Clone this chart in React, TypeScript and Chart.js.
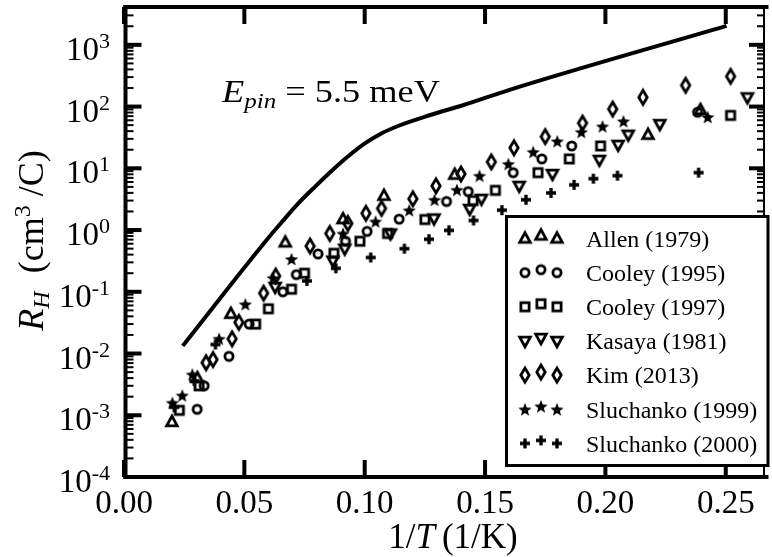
import React, { useEffect, useRef } from "react";
import { Chart, registerables } from "chart.js";

Chart.register(...registerables);

// ---------------- data ----------------
const seriesLabels = [
  "Allen (1979)",
  "Cooley (1995)",
  "Cooley (1997)",
  "Kasaya (1981)",
  "Kim (2013)",
  "Sluchanko (1999)",
  "Sluchanko (2000)",
];

const allenX = [0.0199, 0.0305, 0.0444, 0.067, 0.091, 0.108, 0.1374, 0.2177, 0.2395];
const allenY = [7.8e-4, 4.0e-3, 0.044, 0.63, 1.5, 3.6, 7.9, 35, 88];

const cooley95X = [0.0304, 0.0333, 0.0436, 0.052, 0.066, 0.0716, 0.0806, 0.092, 0.101, 0.1143, 0.134, 0.143, 0.1617, 0.1736, 0.186, 0.2383];
const cooley95Y = [1.25e-3, 3.0e-3, 0.009, 0.03, 0.1, 0.19, 0.41, 0.66, 0.95, 1.5, 2.9, 4.2, 8.5, 14.2, 23, 81];

const cooley97X = [0.023, 0.0312, 0.0547, 0.06, 0.0696, 0.075, 0.0872, 0.098, 0.1095, 0.125, 0.145, 0.1543, 0.172, 0.185, 0.198, 0.252];
const cooley97Y = [1.2e-3, 3.0e-3, 0.03, 0.053, 0.11, 0.2, 0.42, 0.66, 0.88, 1.48, 3.0, 4.4, 8.5, 14.2, 23, 72];

const kasayaX = [0.0628, 0.0868, 0.0917, 0.1107, 0.1288, 0.1436, 0.1485, 0.1642, 0.178, 0.1975, 0.2053, 0.2095, 0.2226, 0.259];
const kasayaY = [0.12, 0.32, 0.5, 0.88, 1.54, 2.2, 3.2, 5.2, 8.1, 13.7, 24, 35, 52, 141];

const kimX = [0.0341, 0.037, 0.0449, 0.0477, 0.058, 0.063, 0.0773, 0.0855, 0.093, 0.1005, 0.107, 0.12, 0.1296, 0.14, 0.1526, 0.162, 0.175, 0.1905, 0.203, 0.2156, 0.2333, 0.252];
const kimY = [7.1e-3, 8.0e-3, 0.0173, 0.032, 0.095, 0.18, 0.55, 0.88, 1.28, 1.87, 2.24, 3.2, 5.2, 8.1, 12.7, 21.5, 32.6, 54, 91, 141, 221, 309];

const sluch99X = [0.0201, 0.0242, 0.0284, 0.0395, 0.0504, 0.062, 0.0696, 0.091, 0.1045, 0.1185, 0.129, 0.1383, 0.1477, 0.1597, 0.17, 0.18, 0.19, 0.1988, 0.2075, 0.2425];
const sluch99Y = [1.6e-3, 2.1e-3, 4.6e-3, 0.0174, 0.063, 0.167, 0.34, 0.88, 1.38, 2.1, 3.1, 4.5, 7.6, 11.8, 18.5, 27.5, 39, 48, 58, 68];

const sluch00X = [0.0209, 0.0292, 0.038, 0.076, 0.088, 0.1025, 0.1165, 0.1267, 0.135, 0.1452, 0.157, 0.167, 0.1774, 0.187, 0.195, 0.205, 0.2387];
const sluch00Y = [1.35e-3, 3.6e-3, 0.014, 0.15, 0.24, 0.36, 0.5, 0.71, 0.99, 1.43, 2.1, 3.1, 4.0, 5.4, 6.8, 7.6, 8.5];

const modelX = [0.0244, 0.0601, 0.0663, 0.0724, 0.0793, 0.0861, 0.093, 0.0999, 0.1067, 0.1136, 0.1273, 0.1411, 0.1602, 0.2503];
const modelY = [0.0133, 0.757, 1.45, 2.70, 5.01, 8.96, 15.5, 25.1, 36.4, 48.0, 73.0, 106, 187, 2029];

const xTickValues = [0, 0.05, 0.1, 0.15, 0.2, 0.25];
const xTickLabels = ["0.00", "0.05", "0.10", "0.15", "0.20", "0.25"];
const yTickExponents = [-4, -3, -2, -1, 0, 1, 2, 3];
const yTickExpLabels = ["-4", "-3", "-2", "-1", "0", "1", "2", "3"];

const X_MIN = 0;
const X_MAX = 0.2663;
const Y_MIN = 1e-4;
const Y_MAX = 4100;

const SERIF = '"Liberation Serif", "Times New Roman", serif';

function pts(xs: number[], ys: number[]) {
  return xs.map((x, i) => ({ x, y: ys[i] }));
}

function makeMarker(kind: string): HTMLCanvasElement {
  const S = 22;
  const c = document.createElement("canvas");
  c.width = S;
  c.height = S;
  const g = c.getContext("2d")!;
  const m = S / 2;
  g.strokeStyle = "#000";
  g.fillStyle = "#000";
  g.lineWidth = 2.8;
  g.lineJoin = "miter";
  g.beginPath();
  switch (kind) {
    case "triUp":
      g.moveTo(m, m - 5.8);
      g.lineTo(m + 5.3, m + 3.8);
      g.lineTo(m - 5.3, m + 3.8);
      g.closePath();
      g.stroke();
      break;
    case "triDown":
      g.moveTo(m, m + 5.8);
      g.lineTo(m + 5.3, m - 3.8);
      g.lineTo(m - 5.3, m - 3.8);
      g.closePath();
      g.stroke();
      break;
    case "circle":
      g.arc(m, m, 4.1, 0, Math.PI * 2);
      g.stroke();
      break;
    case "square":
      g.rect(m - 4.1, m - 4.1, 8.2, 8.2);
      g.stroke();
      break;
    case "diamond":
      g.moveTo(m, m - 7);
      g.lineTo(m + 4.2, m);
      g.lineTo(m, m + 7);
      g.lineTo(m - 4.2, m);
      g.closePath();
      g.stroke();
      break;
    case "star":
      for (let i = 0; i < 10; i++) {
        const r = i % 2 === 0 ? 7 : 3;
        const a = -Math.PI / 2 + (i * Math.PI) / 5;
        const px = m + r * Math.cos(a);
        const py = m + 0.8 + r * Math.sin(a);
        if (i === 0) g.moveTo(px, py);
        else g.lineTo(px, py);
      }
      g.closePath();
      g.fill();
      break;
    case "plus":
      g.lineWidth = 3.3;
      g.moveTo(m - 5, m);
      g.lineTo(m + 5, m);
      g.moveTo(m, m - 5);
      g.lineTo(m, m + 5);
      g.stroke();
      break;
  }
  return c;
}

type Run = { text: string; font: string; dy: number };

function runsWidth(ctx: CanvasRenderingContext2D, runs: Run[]) {
  let w = 0;
  for (const r of runs) {
    ctx.font = r.font;
    w += ctx.measureText(r.text).width;
  }
  return w;
}

function drawRuns(ctx: CanvasRenderingContext2D, runs: Run[], x: number, y: number) {
  let cx = x;
  ctx.textAlign = "left";
  ctx.textBaseline = "alphabetic";
  for (const r of runs) {
    ctx.font = r.font;
    ctx.fillText(r.text, cx, y + r.dy);
    cx += ctx.measureText(r.text).width;
  }
}

export default function App() {
  const canvasRef = useRef<HTMLCanvasElement | null>(null);

  useEffect(() => {
    const canvas = canvasRef.current;
    if (!canvas) return;

    const kinds = ["triUp", "circle", "square", "triDown", "diamond", "star", "plus"];
    const markers = kinds.map((k) => makeMarker(k));
    const seriesData = [
      pts(allenX, allenY),
      pts(cooley95X, cooley95Y),
      pts(cooley97X, cooley97Y),
      pts(kasayaX, kasayaY),
      pts(kimX, kimY),
      pts(sluch99X, sluch99Y),
      pts(sluch00X, sluch00Y),
    ];

    const decor = {
      id: "decor",
      afterDraw(chart: any) {
        const ctx: CanvasRenderingContext2D = chart.ctx;
        const a = chart.chartArea;
        const xs = chart.scales.x;
        const ys = chart.scales.y;
        ctx.save();
        ctx.fillStyle = "#000";

        const L = a.left;
        const R = a.right;
        const T = a.top;
        const B = a.bottom;

        // y ticks (major + minor), left and right, pointing inward
        for (let e = -4; e <= 3; e++) {
          for (let k = 1; k <= 9; k++) {
            const v = k * Math.pow(10, e);
            if (v < Y_MIN || v > Y_MAX) continue;
            const py = ys.getPixelForValue(v);
            if (k === 1) {
              ctx.fillRect(L, py - 2, 17.5, 4);
              ctx.fillRect(R - 16, py - 2, 16, 4);
            } else {
              ctx.fillRect(L, py - 1, 9.5, 2);
              ctx.fillRect(R - 8, py - 1, 8, 2);
            }
          }
        }
        // x ticks top & bottom
        for (const v of xTickValues) {
          const px = xs.getPixelForValue(v);
          ctx.fillRect(px - 2, B - 17, 4, 17);
          ctx.fillRect(px - 2, T, 4, 17);
        }

        // frame
        ctx.fillRect(L - 0.5, T - 2, R - L + 4, 4);
        ctx.fillRect(L - 0.5, B - 2, R - L + 4, 4);
        ctx.fillRect(L - 0.5, T - 2, 4, B - T + 4);
        ctx.fillRect(R - 2, T - 2, 2, B - T + 4);

        // y tick labels 10^n
        for (let i = 0; i < yTickExponents.length; i++) {
          const py = ys.getPixelForValue(Math.pow(10, yTickExponents[i]));
          ctx.font = `22px ${SERIF}`;
          const supW = ctx.measureText(yTickExpLabels[i]).width;
          ctx.textBaseline = "alphabetic";
          ctx.textAlign = "left";
          ctx.fillText(yTickExpLabels[i], 110 - supW, py + 3);
          ctx.font = `33px ${SERIF}`;
          ctx.textAlign = "right";
          ctx.fillText("10", 110 - supW, py + 15);
        }

        // x tick labels
        ctx.font = `33px ${SERIF}`;
        ctx.textAlign = "center";
        ctx.textBaseline = "alphabetic";
        for (let i = 0; i < xTickValues.length; i++) {
          const px = xs.getPixelForValue(xTickValues[i]);
          ctx.fillText(xTickLabels[i], px, 513);
        }

        // x title: 1/T (1/K)
        const xt: Run[] = [
          { text: "1/", font: `35px ${SERIF}`, dy: 0 },
          { text: "T", font: `italic 35px ${SERIF}`, dy: 0 },
          { text: "\u2009(1/K)", font: `35px ${SERIF}`, dy: 0 },
        ];
        const xtw = runsWidth(ctx, xt);
        drawRuns(ctx, xt, 453 - xtw / 2, 548);

        // y title: R_H (cm^3 /C)
        const yt: Run[] = [
          { text: "R", font: `italic 36px ${SERIF}`, dy: 0 },
          { text: "H", font: `italic 24px ${SERIF}`, dy: 6 },
          { text: "  (cm", font: `36px ${SERIF}`, dy: 0 },
          { text: "3", font: `24px ${SERIF}`, dy: -13 },
          { text: " /C)", font: `36px ${SERIF}`, dy: 0 },
        ];
        const ytw = runsWidth(ctx, yt);
        ctx.save();
        ctx.translate(43, 240.5);
        ctx.rotate(-Math.PI / 2);
        drawRuns(ctx, yt, -ytw / 2, 0);
        ctx.restore();

        // annotation E_pin = 5.5 meV
        const an: Run[] = [
          { text: "E", font: `italic 32px ${SERIF}`, dy: 0 },
          { text: "pin", font: `italic 22px ${SERIF}`, dy: 6 },
          { text: " = 5.5 meV", font: `32px ${SERIF}`, dy: 0 },
        ];
        const anw = runsWidth(ctx, an);
        ctx.save();
        ctx.translate(222, 102);
        ctx.scale(218 / anw, 1);
        drawRuns(ctx, an, 0, 0);
        ctx.restore();

        // legend
        const lx = 506.5;
        const ly = 216.5;
        const lw = 261.5;
        const lh = 249;
        ctx.fillStyle = "#fff";
        ctx.fillRect(lx, ly, lw, lh);
        ctx.strokeStyle = "#000";
        ctx.lineWidth = 3;
        ctx.strokeRect(lx, ly, lw, lh);
        ctx.fillStyle = "#000";
        ctx.font = `24px ${SERIF}`;
        ctx.textAlign = "left";
        ctx.textBaseline = "alphabetic";
        for (let i = 0; i < seriesLabels.length; i++) {
          const cy = 238.5 + i * 34.15;
          const mk = markers[i];
          const offs = [
            [525, 0],
            [541, -3],
            [557, 0],
          ];
          for (const [mx, dy] of offs) {
            ctx.drawImage(mk, mx - mk.width / 2, cy + dy - mk.height / 2);
          }
          ctx.fillText(seriesLabels[i], 586, cy + 8.3);
        }
        ctx.restore();
      },
    };

    const datasets: any[] = seriesData.map((d, i) => ({
      label: seriesLabels[i],
      data: d,
      pointStyle: markers[i],
      pointRadius: 6,
      showLine: false,
    }));
    datasets.push({
      label: "model",
      data: pts(modelX, modelY),
      showLine: true,
      pointRadius: 0,
      borderColor: "#000",
      borderWidth: 4,
      borderCapStyle: "butt",
      cubicInterpolationMode: "monotone",
      fill: false,
    });

    const chart = new Chart(canvas, {
      type: "scatter",
      data: { datasets },
      options: {
        responsive: false,
        animation: false,
        events: [],
        layout: { padding: { left: 124, right: 1, top: 4, bottom: 80 } },
        plugins: { legend: { display: false }, tooltip: { enabled: false } },
        scales: {
          x: { type: "linear", min: X_MIN, max: X_MAX, display: false },
          y: { type: "logarithmic", min: Y_MIN, max: Y_MAX, display: false },
        },
      },
      plugins: [decor],
    } as any);

    return () => chart.destroy();
  }, []);

  return (
    <div style={{ position: "fixed", left: 0, top: 0, width: 772, height: 557, background: "#fff" }}>
      <canvas ref={canvasRef} width={772} height={557} style={{ display: "block" }} />
    </div>
  );
}
